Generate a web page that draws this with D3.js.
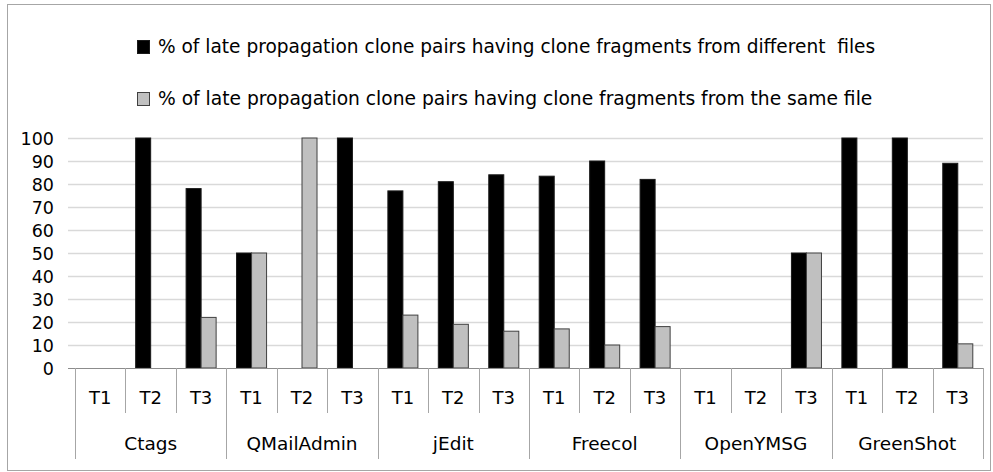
<!DOCTYPE html>
<html>
<head>
<meta charset="utf-8">
<script src="https://cdn.jsdelivr.net/npm/d3@7"></script>
<style>
  html, body { margin: 0; padding: 0; background: #fff; }
  svg { display: block; }
  text { font-family: "DejaVu Sans", "Liberation Sans", sans-serif; fill: #000; }
</style>
</head>
<body>
<svg id="chart" width="993" height="472"></svg>
<script>
// ---- data ----
const groups = ["Ctags", "QMailAdmin", "jEdit", "Freecol", "OpenYMSG", "GreenShot"];
const periods = ["T1", "T2", "T3"];
const seriesNames = [
  "% of late propagation clone pairs having clone fragments from different  files",
  "% of late propagation clone pairs having clone fragments from the same file"
];
// values per group × period, in order T1,T2,T3 for each group
const differentFiles = [0, 100, 78,   50, 0, 100,   77, 81, 84,   83.4, 90, 82,   0, 0, 50,   100, 100, 89];
const sameFile       = [0, 0, 22,     50, 100, 0,   23, 19, 16,   17, 10, 18,     0, 0, 50,   0, 0, 10.5];
const yTicks = [0, 10, 20, 30, 40, 50, 60, 70, 80, 90, 100];
const seriesColors = ["#000000", "#c0c0c0"];
const seriesStrokes = ["#1a1a1a", "#404040"];

// ---- layout ----
const svg = d3.select("#chart");
const W = 993, H = 472;
const plotLeft = 75, plotRight = 983, plotTop = 138, plotBottom = 368;

svg.append("rect").attr("x", 0).attr("y", 0).attr("width", W).attr("height", H).attr("fill", "#fff");
svg.append("rect").attr("x", 7.5).attr("y", 4.5).attr("width", 983).attr("height", 466)
  .attr("fill", "none").attr("stroke", "#a6a6a6").attr("stroke-width", 1);

const slots = [];
groups.forEach((g, gi) => periods.forEach((p, pi) => slots.push({ key: g + "|" + p, group: g, period: p, i: gi * 3 + pi })));

const x0 = d3.scaleBand().domain(slots.map(d => d.key)).range([plotLeft, plotRight]).paddingInner(0).paddingOuter(0);
const x1 = d3.scaleBand().domain([0, 1]).range([0, x0.bandwidth()]).paddingInner(0).paddingOuter(0.68);
const y = d3.scaleLinear().domain([0, 100]).range([plotBottom, plotTop]);

// gridlines
svg.append("g").selectAll("line").data(yTicks.filter(t => t > 0)).join("line")
  .attr("x1", 68).attr("x2", plotRight)
  .attr("y1", d => Math.round(y(d)) + 0.5).attr("y2", d => Math.round(y(d)) + 0.5)
  .attr("stroke", "#d9d9d9").attr("stroke-width", 1.3);

// y axis labels
const yAxis = d3.axisLeft(y).tickValues(yTicks).tickSize(0).tickPadding(0);
const yg = svg.append("g").attr("transform", `translate(54,0)`).call(yAxis);
yg.select(".domain").remove();
yg.selectAll("text").attr("font-size", 17.5).attr("font-family", "DejaVu Sans, sans-serif").attr("fill", "#000").attr("dy", "0.36em");

// bars
const values = [differentFiles, sameFile];
const barData = [];
slots.forEach((s, i) => values.forEach((arr, si) => barData.push({ key: s.key, s: si, v: arr[i] })));
svg.append("g").selectAll("rect").data(barData.filter(d => d.v > 0)).join("rect")
  .attr("x", d => x0(d.key) + x1(d.s))
  .attr("width", x1.bandwidth())
  .attr("y", d => y(d.v))
  .attr("height", d => y(0) - y(d.v))
  .attr("fill", d => seriesColors[d.s])
  .attr("stroke", d => seriesStrokes[d.s])
  .attr("stroke-width", 1);

// zero axis line
svg.append("line").attr("x1", 68).attr("x2", plotRight).attr("y1", plotBottom + 0.5).attr("y2", plotBottom + 0.5)
  .attr("stroke", "#8c8c8c").attr("stroke-width", 1.2);

// category separators
const sepG = svg.append("g");
for (let i = 0; i <= slots.length; i++) {
  const xx = (i < slots.length ? x0(slots[i].key) : plotRight);
  const isGroup = i % 3 === 0;
  sepG.append("line").attr("x1", Math.round(xx) + 0.5).attr("x2", Math.round(xx) + 0.5)
    .attr("y1", plotBottom).attr("y2", isGroup ? 459 : 413)
    .attr("stroke", "#a6a6a6").attr("stroke-width", 1);
}
// period labels
svg.append("g").selectAll("text").data(slots).join("text")
  .attr("x", d => x0(d.key) + x0.bandwidth() / 2).attr("y", 398).attr("dy", "0.36em")
  .attr("text-anchor", "middle").attr("font-size", 18).text(d => d.period);
// group labels
svg.append("g").selectAll("text").data(groups).join("text")
  .attr("x", (g, gi) => (x0(slots[gi * 3].key) + x0(slots[gi * 3 + 2].key) + x0.bandwidth()) / 2)
  .attr("y", 443).attr("dy", "0.36em")
  .attr("text-anchor", "middle").attr("font-size", 18.5).text(d => d);

// legend
const legendBase = [53, 105];
const textStart = 158;
const textEnd = [876, 873];
seriesNames.forEach((name, i) => {
  svg.append("rect").attr("x", 137.5).attr("y", legendBase[i] - 12.5).attr("width", 12).attr("height", 13)
    .attr("fill", seriesColors[i]).attr("stroke", seriesStrokes[i]).attr("stroke-width", 1);
  const t = svg.append("text").attr("x", 0).attr("y", 0)
    .style("white-space", "pre")
    .attr("font-family", "DejaVu Sans, sans-serif")
    .attr("font-size", 19).text(name);
  const len = t.node().getComputedTextLength();
  const sx = (textEnd[i] - textStart) / len;
  t.attr("transform", `translate(${textStart},${legendBase[i]}) scale(${sx},1)`);
});
</script>
</body>
</html>
